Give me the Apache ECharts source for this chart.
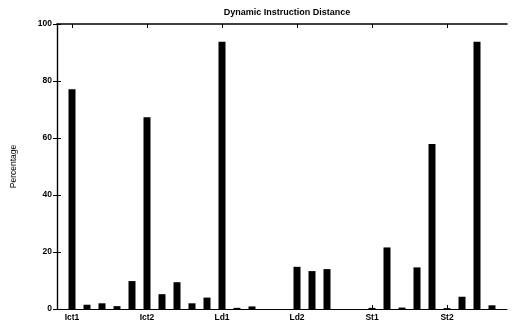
<!DOCTYPE html>
<html>
<head>
<meta charset="utf-8">
<script src="https://cdn.jsdelivr.net/npm/echarts@6/dist/echarts.min.js"></script>
<style>
  html, body { margin: 0; padding: 0; background: #fff; }
  #chart { width: 512px; height: 323px; }
</style>
</head>
<body>
<div id="chart"></div>
<script>
// Group labels, one every five bar slots
const groupNames = ['Ict1', 'Ict2', 'Ld1', 'Ld2', 'St1', 'St2'];
const groupStarts = [1, 6, 11, 16, 21, 26];

// Percentage for each distance slot (slots 1..29)
const percentages = [
  77.1, 1.5, 2.0, 1.0, 9.8,
  67.3, 5.2, 9.4, 2.0, 4.0,
  93.8, 0.4, 0.9, 0, 0,
  14.8, 13.3, 14.0, 0, 0,
  0.4, 21.6, 0.5, 14.6, 57.9,
  0.3, 4.3, 93.8, 1.3
];

const yTicks = [0, 20, 40, 60, 80, 100];

const chart = echarts.init(document.getElementById('chart'), null, { renderer: 'canvas' });

const labelFont = { fontFamily: 'Liberation Sans, Arial, sans-serif', fontSize: 8.5, fontWeight: 'bold', color: '#000' };

chart.setOption({
  animation: false,
  backgroundColor: '#fff',
  title: {
    text: 'Dynamic Instruction Distance',
    left: 282,
    textAlign: 'center',
    top: 3,
    textStyle: { fontFamily: 'Liberation Sans, Arial, sans-serif', fontSize: 9, fontWeight: 'bold', color: '#000' }
  },
  grid: { left: 57, right: 5, top: 24, bottom: 14, containLabel: false },
  xAxis: [
    {
      type: 'value',
      min: 0,
      max: 30,
      position: 'bottom',
      splitLine: { show: false },
      axisLine: { show: true, onZero: false, lineStyle: { color: '#000', width: 1.2 } },
      axisTick: { show: true, inside: true, length: 4, customValues: groupStarts, lineStyle: { color: '#000' } },
      axisLabel: {
        ...labelFont,
        margin: 4,
        customValues: groupStarts,
        formatter: v => groupNames[groupStarts.indexOf(v)] || ''
      }
    },
    {
      type: 'value',
      min: 0,
      max: 30,
      position: 'top',
      splitLine: { show: false },
      axisLine: { show: true, onZero: false, lineStyle: { color: '#000', width: 1.5 } },
      axisTick: { show: true, inside: true, length: 4, customValues: groupStarts, lineStyle: { color: '#000' } },
      axisLabel: { show: false }
    }
  ],
  yAxis: [
    {
      type: 'value',
      min: 0,
      max: 100,
      interval: 20,
      name: 'Percentage',
      nameLocation: 'middle',
      nameGap: 39,
      nameRotate: 90,
      nameTextStyle: { fontFamily: 'Liberation Sans, Arial, sans-serif', fontSize: 8.5, color: '#000' },
      splitLine: { show: false },
      axisLine: { show: true, lineStyle: { color: '#000', width: 1.2 } },
      axisTick: { show: true, inside: true, length: 4, lineStyle: { color: '#000' } },
      axisLabel: { ...labelFont, margin: 5, customValues: yTicks }
    },
    {
      type: 'value',
      min: 0,
      max: 100,
      interval: 20,
      position: 'right',
      splitLine: { show: false },
      axisLine: { show: true, lineStyle: { color: '#000', width: 1.2 } },
      axisTick: { show: true, inside: true, length: 4, lineStyle: { color: '#000' } },
      axisLabel: { show: false }
    }
  ],
  series: [
    {
      type: 'bar',
      xAxisIndex: 0,
      yAxisIndex: 0,
      barWidth: 7,
      itemStyle: { color: '#000' },
      data: percentages.map((v, i) => [i + 1, v])
    }
  ]
});
</script>
</body>
</html>
